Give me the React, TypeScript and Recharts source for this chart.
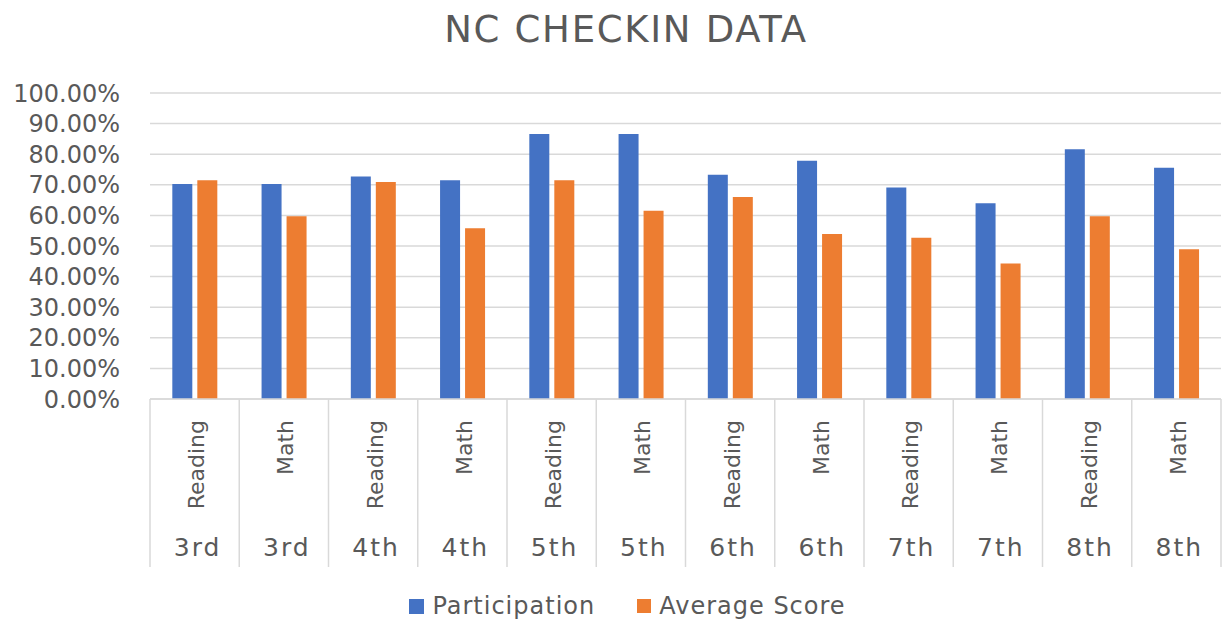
import { BarChart, Bar, XAxis, YAxis, CartesianGrid, Legend } from 'recharts';

const subjects = ['Reading', 'Math', 'Reading', 'Math', 'Reading', 'Math', 'Reading', 'Math', 'Reading', 'Math', 'Reading', 'Math'];
const grades = ['3rd', '3rd', '4th', '4th', '5th', '5th', '6th', '6th', '7th', '7th', '8th', '8th'];
const participation = [0.703, 0.703, 0.727, 0.715, 0.866, 0.866, 0.733, 0.779, 0.691, 0.64, 0.816, 0.756];
const averageScore = [0.715, 0.597, 0.709, 0.558, 0.715, 0.615, 0.66, 0.539, 0.527, 0.443, 0.597, 0.489];
const yTicks = [0, 0.1, 0.2, 0.3, 0.4, 0.5, 0.6, 0.7, 0.8, 0.9, 1];

const data = subjects.map((subject, i) => ({
  subject,
  grade: grades[i],
  participation: participation[i],
  averageScore: averageScore[i],
}));

const W = 1225;
const H = 623;
const yAxisWidth = 150;
const rightMargin = 4;
const bandWidth = (W - yAxisWidth - rightMargin) / subjects.length;
const font = '"DejaVu Sans", sans-serif';
const textColor = '#595959';
const gridColor = '#d9d9d9';

const CategoryTick = (props: any) => {
  const { x, y, payload } = props;
  const i = payload?.index ?? props.index ?? 0;
  const half = bandWidth / 2;
  return (
    <g>
      <line x1={x - half} y1={y} x2={x - half} y2={y + 168} stroke={gridColor} strokeWidth={1.5} />
      {i === subjects.length - 1 && (
        <line x1={x + half} y1={y} x2={x + half} y2={y + 168} stroke={gridColor} strokeWidth={1.5} />
      )}
      <text
        transform={`translate(${x + 2},${y + 21}) rotate(-90)`}
        textAnchor="end"
        dominantBaseline="central"
        fill={textColor}
        fontFamily={font}
        fontSize={22}
      >
        {subjects[i]}
      </text>
      <text
        x={x + 3}
        y={y + 148}
        textAnchor="middle"
        dominantBaseline="central"
        fill={textColor}
        fontFamily={font}
        fontSize={25}
        letterSpacing={2}
      >
        {grades[i]}
      </text>
    </g>
  );
};

const renderLegend = () => (
  <div style={{ display: 'flex', justifyContent: 'center', alignItems: 'center', paddingLeft: 30, fontFamily: font, fontSize: 24, color: textColor, letterSpacing: 1 }}>
    <span style={{ display: 'inline-block', width: 15, height: 15, background: '#4472C4', marginRight: 8 }} />
    <span style={{ marginRight: 42 }}>Participation</span>
    <span style={{ display: 'inline-block', width: 14, height: 14, background: '#ED7D31', marginRight: 8 }} />
    <span>Average Score</span>
  </div>
);

export default function App() {
  return (
    <div style={{ position: 'absolute', left: 0, top: 0, width: W, height: H, background: '#fff' }}>
      <div
        style={{
          position: 'absolute',
          top: 11,
          left: 0,
          width: W,
          boxSizing: 'border-box',
          paddingLeft: 27,
          textAlign: 'center',
          fontFamily: font,
          fontSize: 37,
          lineHeight: '38px',
          letterSpacing: 1.7,
          color: textColor,
          zIndex: 1,
        }}
      >
        NC CHECKIN DATA
      </div>
      <BarChart
        width={W}
        height={H}
        data={data}
        margin={{ top: 93, right: rightMargin, left: 0, bottom: 0 }}
        barCategoryGap="25%"
        barGap={5}
      >
        <CartesianGrid vertical={false} stroke={gridColor} strokeWidth={1.5} />
        <XAxis
          dataKey="subject"
          interval={0}
          height={224}
          tickLine={false}
          tickSize={0}
          tickMargin={0}
          axisLine={{ stroke: gridColor, strokeWidth: 1.5 }}
          tick={<CategoryTick />}
        />
        <YAxis
          width={yAxisWidth}
          domain={[0, 1]}
          ticks={yTicks}
          interval={0}
          axisLine={false}
          tickLine={false}
          tickSize={0}
          tickMargin={30}
          tickFormatter={(v: number) => `${(v * 100).toFixed(2)}%`}
          tick={{ fill: textColor, fontFamily: font, fontSize: 24 }}
        />
        <Legend
          verticalAlign="middle"
          content={renderLegend}
          wrapperStyle={{ top: 592, left: 0, width: W, boxSizing: 'border-box' }}
        />
        <Bar dataKey="participation" name="Participation" fill="#4472C4" isAnimationActive={false} />
        <Bar dataKey="averageScore" name="Average Score" fill="#ED7D31" isAnimationActive={false} />
      </BarChart>
    </div>
  );
}
